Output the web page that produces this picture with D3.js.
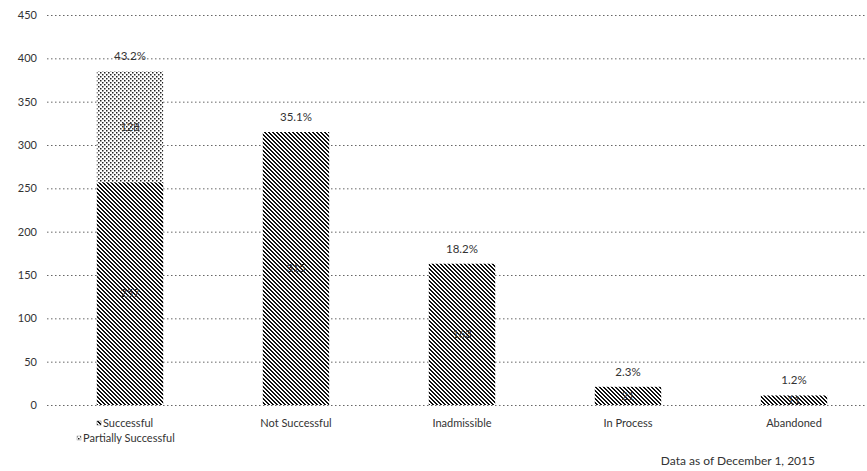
<!DOCTYPE html>
<html>
<head>
<meta charset="utf-8">
<script src="https://cdn.jsdelivr.net/npm/d3@7"></script>
<style>
  body { margin: 0; background: #fff; }
  text { font-family: Lato, "Open Sans", sans-serif; fill: #333; }
</style>
</head>
<body>
<div id="chart"></div>
<script>
// data
var categories = ['Successful', 'Not Successful', 'Inadmissible', 'In Process', 'Abandoned']
var mainValues = [257, 315, 163, 21, 11]
var partialValues = [128, 0, 0, 0, 0]
var percentLabels = ['43.2%', '35.1%', '18.2%', '2.3%', '1.2%']
var yTicks = [0, 50, 100, 150, 200, 250, 300, 350, 400, 450]

var width = 867, height = 471

var svg = d3.select('#chart')
  .append('svg')
  .attr('width', width)
  .attr('height', height)

// hatch patterns (pixel based so they stay crisp)
var defs = svg.append('defs')
var stripes = defs.append('pattern')
  .attr('id', 'stripes')
  .attr('patternUnits', 'userSpaceOnUse')
  .attr('width', 4).attr('height', 4)
stripes.append('rect').attr('width', 4).attr('height', 4).attr('fill', '#fff')
var stripePx = [[0, 0], [1, 0], [1, 1], [2, 1], [2, 2], [3, 2], [3, 3], [0, 3]]
stripes.selectAll('rect.px')
  .data(stripePx)
  .enter()
  .append('rect')
  .attr('class', 'px')
  .attr('x', function (d) { return d[0] })
  .attr('y', function (d) { return d[1] })
  .attr('width', 1).attr('height', 1)
  .attr('fill', '#111')

var dots = defs.append('pattern')
  .attr('id', 'dots')
  .attr('patternUnits', 'userSpaceOnUse')
  .attr('width', 4).attr('height', 4)
dots.append('rect').attr('width', 4).attr('height', 4).attr('fill', '#fff')
dots.append('rect').attr('x', 0).attr('y', 0).attr('width', 1.5).attr('height', 1.5).attr('fill', '#222')
dots.append('rect').attr('x', 2).attr('y', 2).attr('width', 1.5).attr('height', 1.5).attr('fill', '#222')

// scales
var x = d3.scaleBand()
  .domain(categories)
  .range([47, 877])
  .paddingInner(0.6)
  .paddingOuter(0.3)

var y = d3.scaleLinear()
  .domain([0, 450])
  .range([405, 15])

// grid lines + y labels
var yAxis = svg.append('g')
  .attr('transform', 'translate(47,0)')
  .call(d3.axisLeft(y).tickValues(yTicks).tickSize(-(width - 47)).tickPadding(10))
yAxis.select('.domain').remove()
yAxis.selectAll('.tick line')
  .attr('stroke', '#666')
  .attr('stroke-dasharray', '1.5,2.5')
yAxis.selectAll('.tick text')
  .style('font-family', 'Lato, sans-serif')
  .style('font-size', '11px')
  .attr('fill', '#333')

// bars - lower segment
svg.selectAll('.bar-main')
  .data(categories)
  .enter()
  .append('rect')
  .attr('class', 'bar-main')
  .attr('x', function (d) { return x(d) })
  .attr('y', function (d, i) { return y(mainValues[i]) })
  .attr('width', x.bandwidth())
  .attr('height', function (d, i) { return y(0) - y(mainValues[i]) })
  .attr('fill', 'url(#stripes)')

// bars - partially successful segment
svg.selectAll('.bar-partial')
  .data(categories.filter(function (d, i) { return partialValues[i] > 0 }))
  .enter()
  .append('rect')
  .attr('class', 'bar-partial')
  .attr('x', function (d) { return x(d) })
  .attr('y', function (d) { var i = categories.indexOf(d); return y(mainValues[i] + partialValues[i]) })
  .attr('width', x.bandwidth())
  .attr('height', function (d) { var i = categories.indexOf(d); return y(mainValues[i]) - y(mainValues[i] + partialValues[i]) })
  .attr('fill', 'url(#dots)')

// value labels inside bars
function insideLabel (cx, cy, txt) {
  svg.append('text')
    .attr('x', cx).attr('y', cy)
    .attr('text-anchor', 'middle')
    .attr('dy', '0.35em')
    .style('font-size', '11px')
    .attr('fill', '#222')
    .text(txt)
}
categories.forEach(function (d, i) {
  var cx = x(d) + x.bandwidth() / 2
  insideLabel(cx, (y(0) + y(mainValues[i])) / 2, mainValues[i])
  if (partialValues[i] > 0) {
    insideLabel(cx, (y(mainValues[i]) + y(mainValues[i] + partialValues[i])) / 2, partialValues[i])
  }
})

// percentage labels above bars
svg.selectAll('.pct')
  .data(categories)
  .enter()
  .append('text')
  .attr('class', 'pct')
  .attr('x', function (d) { return x(d) + x.bandwidth() / 2 })
  .attr('y', function (d, i) { return y(mainValues[i] + partialValues[i]) - 11 })
  .attr('text-anchor', 'middle')
  .style('font-size', '11.5px')
  .text(function (d, i) { return percentLabels[i] })

// category labels
var labelY = 427
categories.forEach(function (d, i) {
  var cx = x(d) + x.bandwidth() / 2
  if (i === 0) {
    svg.append('rect').attr('x', cx - 33).attr('y', labelY - 6).attr('width', 4).attr('height', 4).attr('fill', 'url(#stripes)').attr('stroke', '#555').attr('stroke-width', 0.5)
    svg.append('text').attr('x', cx - 27).attr('y', labelY).style('font-size', '11px').text('Successful')
    svg.append('rect').attr('x', cx - 53).attr('y', labelY + 9).attr('width', 4).attr('height', 4).attr('fill', 'url(#dots)').attr('stroke', '#999').attr('stroke-width', 0.5)
    svg.append('text').attr('x', cx - 47).attr('y', labelY + 15).style('font-size', '11px').text('Partially Successful')
  } else {
    svg.append('text').attr('x', cx).attr('y', labelY).attr('text-anchor', 'middle').style('font-size', '11px').text(d)
  }
})

// footnote
svg.append('text')
  .attr('x', 815)
  .attr('y', 465)
  .attr('text-anchor', 'end')
  .style('font-size', '12px')
  .text('Data as of December 1, 2015')
</script>
</body>
</html>
